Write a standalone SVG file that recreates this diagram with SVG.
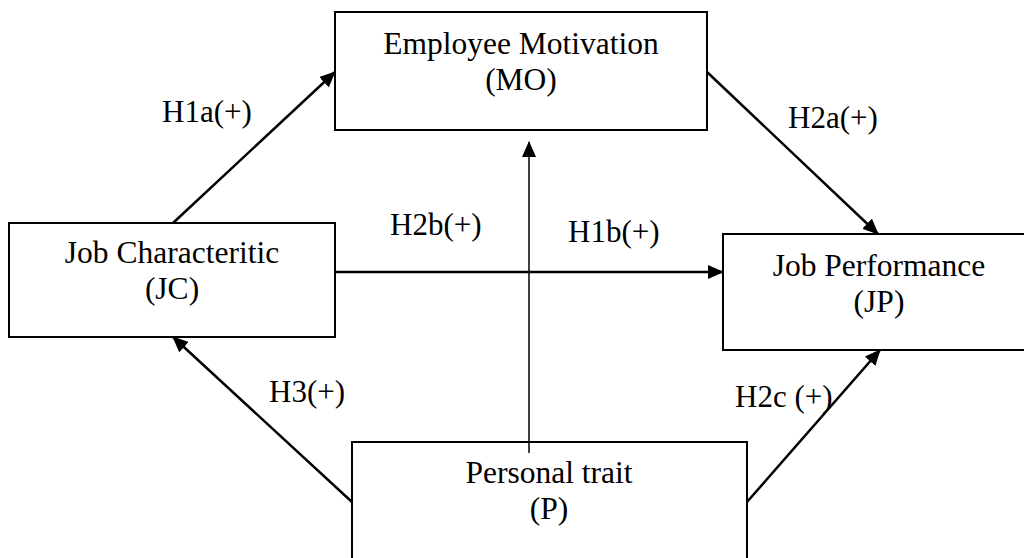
<svg xmlns="http://www.w3.org/2000/svg" width="1024" height="558" viewBox="0 0 1024 558">
  <defs>
    <marker id="ah" viewBox="0 0 16 14" refX="15" refY="7" markerWidth="16" markerHeight="14" orient="auto" markerUnits="userSpaceOnUse">
      <path d="M0,0 L16,7 L0,14 Z" fill="#000"/>
    </marker>
    <style>
      .box { fill: #fff; stroke: #000; stroke-width: 2; }
      .t { font-family: "Liberation Serif", "Times New Roman", serif; font-size: 31.5px; fill: #000; }
      .lbl { font-family: "Liberation Serif", "Times New Roman", serif; font-size: 31px; fill: #000; }
      .c { stroke: #000; stroke-width: 2.5; fill: none; marker-end: url(#ah); }
      .thin { stroke: #000; stroke-width: 1.5; fill: none; marker-end: url(#ah); }
    </style>
  </defs>
  <rect width="1024" height="558" fill="#fff"/>

  <g id="node-MO">
    <rect class="box" x="335" y="12" width="372" height="118"/>
    <text class="t" x="521" y="54" text-anchor="middle">Employee Motivation</text>
    <text class="t" x="521" y="90" text-anchor="middle">(MO)</text>
  </g>
  <g id="node-JC">
    <rect class="box" x="9" y="223" width="326" height="114"/>
    <text class="t" x="172" y="263" text-anchor="middle">Job Characteritic</text>
    <text class="t" x="172" y="299" text-anchor="middle">(JC)</text>
  </g>
  <g id="node-JP">
    <rect class="box" x="723" y="234" width="320" height="116"/>
    <text class="t" x="879" y="276" text-anchor="middle">Job Performance</text>
    <text class="t" x="879" y="312" text-anchor="middle">(JP)</text>
  </g>
  <g id="node-P">
    <rect class="box" x="352" y="442" width="395" height="140"/>
    <text class="t" x="549" y="483" text-anchor="middle">Personal trait</text>
    <text class="t" x="549" y="519" text-anchor="middle">(P)</text>
  </g>

  <g id="connectors">
    <line class="c" x1="173" y1="223" x2="335" y2="72"/>
    <line class="c" x1="707" y1="72" x2="878" y2="234"/>
    <line class="c" x1="335" y1="272" x2="723" y2="272"/>
    <line class="c" x1="352" y1="502" x2="173" y2="337"/>
    <line class="c" x1="747" y1="502" x2="880" y2="350"/>
    <line class="thin" x1="529" y1="453" x2="529" y2="142"/>
  </g>

  <g id="labels">
    <text class="lbl" x="162" y="122">H1a(+)</text>
    <text class="lbl" x="788" y="128">H2a(+)</text>
    <text class="lbl" x="390" y="235">H2b(+)</text>
    <text class="lbl" x="568" y="242">H1b(+)</text>
    <text class="lbl" x="269" y="402">H3(+)</text>
    <text class="lbl" x="735" y="407">H2c (+)</text>
  </g>
</svg>
